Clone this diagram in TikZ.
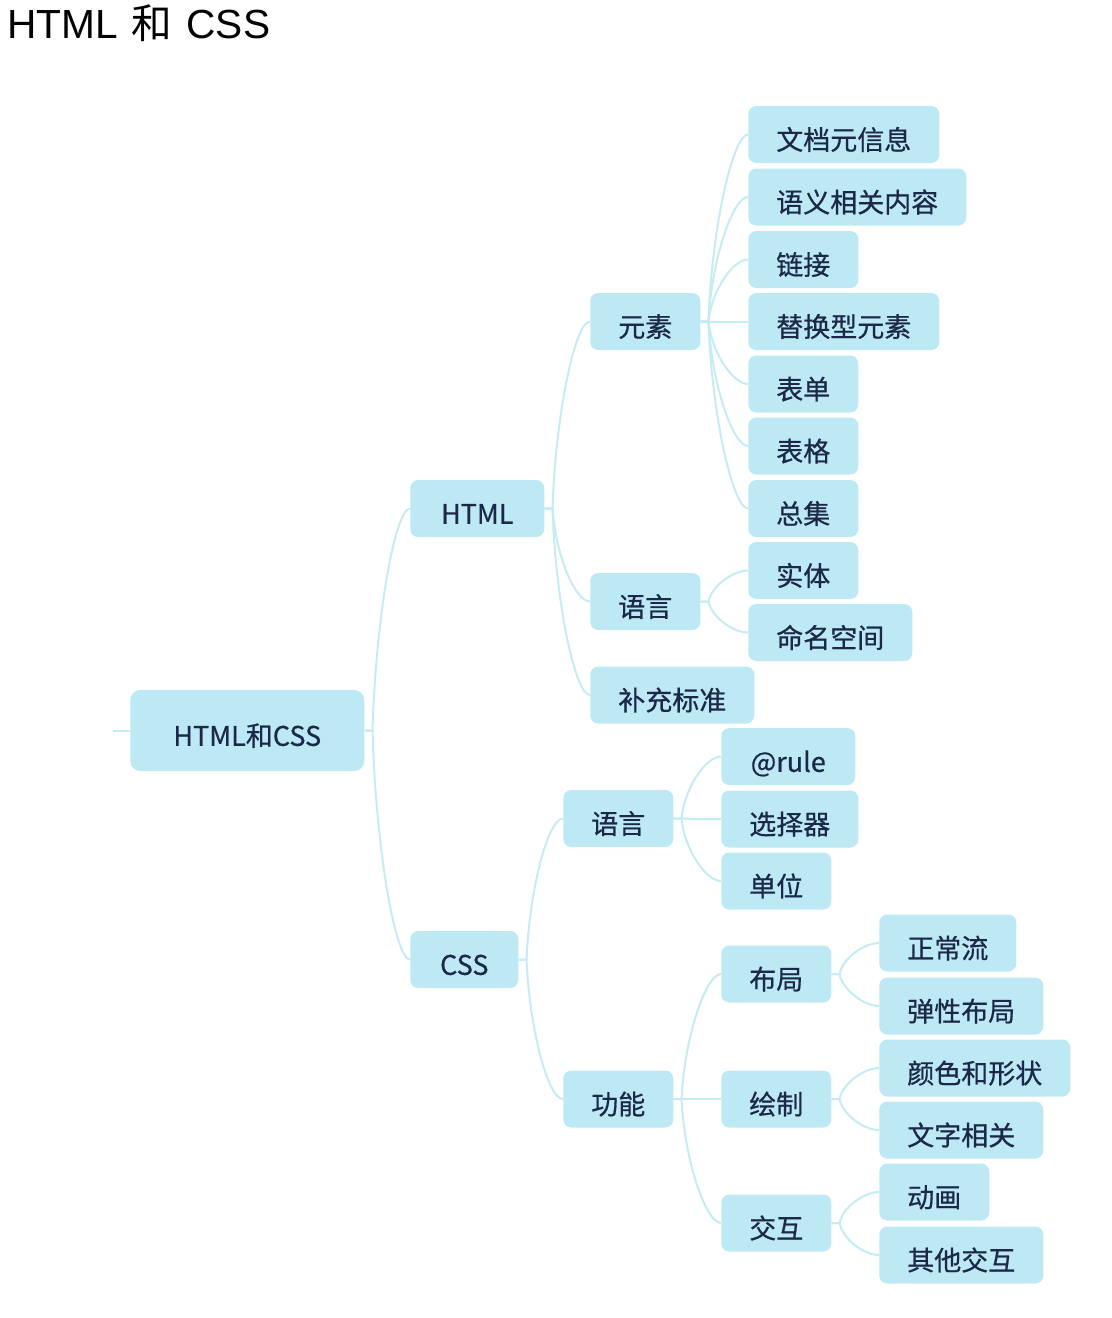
\documentclass[tikz,border=0pt]{standalone}
\usepackage{fontspec}
\setmainfont{Noto Sans CJK SC}
\newfontfamily\topicfont[FakeBold=0.6]{Noto Sans CJK SC}
\newfontfamily\titlelatin{Liberation Sans}
\usetikzlibrary{calc}
\definecolor{topicfill}{RGB}{188,233,243}
\definecolor{topicink}{RGB}{28,40,72}
\definecolor{branchcol}{RGB}{196,236,245}

\begin{document}
\begin{tikzpicture}[x=0.75pt,y=-0.75pt,
  topic/.style={fill=topicfill,text=topicink,rounded corners=6pt,anchor=west,
    inner xsep=21pt,inner ysep=0pt,minimum height=42.75pt,
    font=\topicfont\fontsize{20.25}{24}\selectfont,text height=23pt,text depth=0pt},
  roottopic/.style={topic,minimum width=175.5pt,minimum height=60.75pt,rounded corners=7.5pt},
  branch/.style={draw=branchcol,line width=1.5pt}]
  \useasboundingbox (0,0) rectangle (1112,1318);

  \node[anchor=base west,inner sep=0pt,font=\fontsize{30.5}{36}\selectfont] (title) at (7,38)
    {{\titlelatin HTML }\hspace{2pt}和\hspace{2pt}{\titlelatin\ CSS}};

  % Wurzel und erste Ebene
  \node[roottopic] (root) at (130,730.5) {HTML和CSS};
  \node[topic,minimum width=100.5pt] (html) at (410,508.5) {HTML};
  \node[topic,minimum width=81pt] (css) at (410,959.5) {CSS};

  % HTML
  \node[topic] (elem) at (590,321.5) {元素};
  \node[topic] (hlang) at (590,601.5) {语言};
  \node[topic] (supp) at (590,695) {补充标准};
  \node[topic] (meta) at (748,134.5) {文档元信息};
  \node[topic] (sema) at (748,197) {语义相关内容};
  \node[topic] (link) at (748,259.5) {链接};
  \node[topic] (repl) at (748,321.5) {替换型元素};
  \node[topic] (form) at (748,384) {表单};
  \node[topic] (tabl) at (748,446) {表格};
  \node[topic] (coll) at (748,508.5) {总集};
  \node[topic] (enti) at (748,570.5) {实体};
  \node[topic] (nspc) at (748,632.5) {命名空间};

  % CSS
  \node[topic] (clang) at (563,818.5) {语言};
  \node[topic] (func) at (563,1099) {功能};
  \node[topic,minimum width=100.5pt] (atrule) at (721,756.5) {@rule};
  \node[topic] (selc) at (721,819) {选择器};
  \node[topic] (unit) at (721,881) {单位};
  \node[topic] (layout) at (721,974) {布局};
  \node[topic] (paint) at (721,1099) {绘制};
  \node[topic] (inter) at (721,1223) {交互};
  \node[topic] (flow) at (879,943) {正常流};
  \node[topic] (flex) at (879,1006) {弹性布局};
  \node[topic] (color) at (879,1068) {颜色和形状};
  \node[topic] (text) at (879,1130) {文字相关};
  \node[topic] (anim) at (879,1192) {动画};
  \node[topic] (other) at (879,1255) {其他交互};

  \coordinate (stub) at (113,730.5);
  \draw[branch] (stub) -- (root.west);
  \foreach \src in {root,html,css,elem,hlang,clang,func,layout,paint,inter}
    \coordinate (\src-s) at ($(\src.east)+(8,0)$);
  \foreach \src/\dst in {root/html,root/css,html/elem,html/hlang,html/supp,
      elem/meta,elem/sema,elem/link,elem/repl,elem/form,elem/tabl,elem/coll,
      hlang/enti,hlang/nspc,css/clang,css/func,clang/atrule,clang/selc,clang/unit,
      func/layout,func/paint,func/inter,layout/flow,layout/flex,
      paint/color,paint/text,inter/anim,inter/other}
    \draw[branch] (\src.east) -- (\src-s)
      .. controls ($(\src-s)!0.5!(\src-s |- \dst.west)+(3,0)$) and +(-15,0) .. (\dst.west);
\end{tikzpicture}
\end{document}
